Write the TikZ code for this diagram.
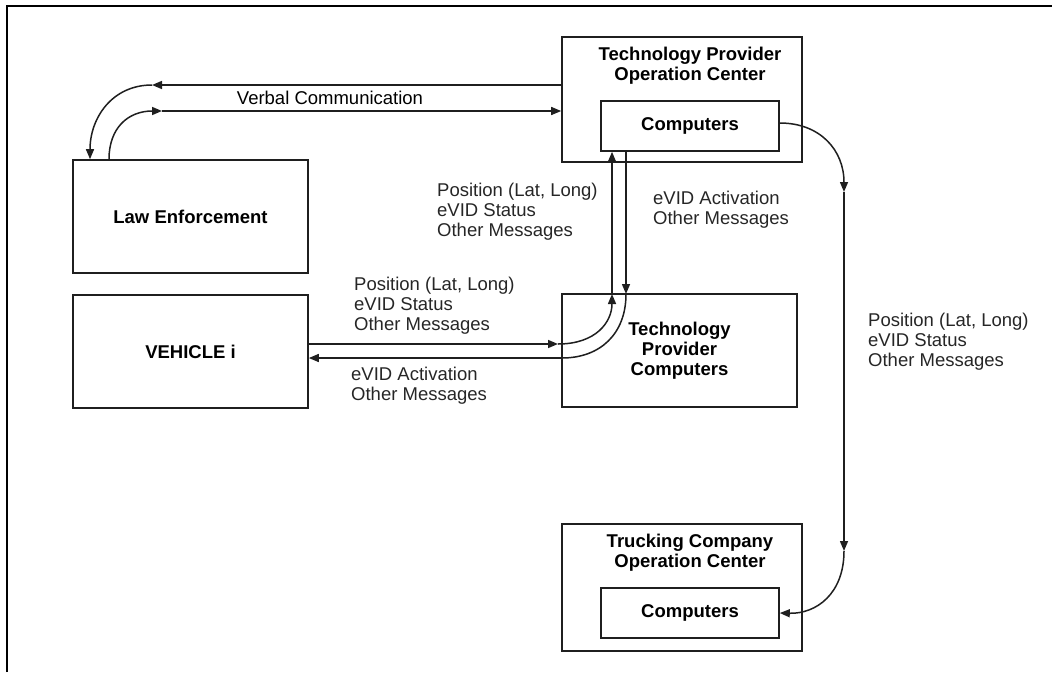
\documentclass[tikz,border=0pt]{standalone}
\usepackage{fontspec}
\setmainfont{Liberation Sans}
\usetikzlibrary{arrows.meta}
\begin{document}
\begin{tikzpicture}[x=1pt,y=-1pt,
  every node/.style={font=\fontsize{18.5}{20}\selectfont, inner sep=0pt},
  box/.style={draw=black!88, line width=1.6pt, rectangle, inner sep=0pt},
  ttl/.style={font=\fontsize{18.5}{20}\selectfont\bfseries, align=center},
  lbl/.style={align=left, anchor=west, text=black!85},
  arr/.style={draw=black!88, line width=1.5pt, -{Triangle[length=10pt,width=8pt]}},
  ln/.style={draw=black!88, line width=1.5pt}]
\useasboundingbox (0,0) rectangle (1052,672);

% outer frame (only the top and left edges fall inside the page)
\draw[line width=2.5pt] (7,672) -- (7,6) -- (1052,6);

% boxes
\node[box, minimum width=240pt, minimum height=125pt] (tpoc) at (682,99.5) {};
\node[ttl] (tpoct) at (690,66) {Technology Provider\\Operation Center};
\node[box, ttl, minimum width=178pt, minimum height=50pt] (tpcomp) at (690,126) {Computers};

\node[box, ttl, minimum width=235pt, minimum height=113pt] (law) at (190.5,216.5) {Law Enforcement};
\node[box, ttl, minimum width=235pt, minimum height=113pt] (veh) at (190.5,351.5) {VEHICLE i};
\node[box, ttl, minimum width=235pt, minimum height=113pt] (tpc) at (679.5,350.5) {Technology\\Provider\\Computers};

\node[box, minimum width=240pt, minimum height=127pt] (tcoc) at (682,587.5) {};
\node[ttl] (tcoct) at (690,553) {Trucking Company\\Operation Center};
\node[box, ttl, minimum width=178pt, minimum height=50pt] (tccomp) at (690,613) {Computers};

% junction points of the curved connectors
\coordinate (v1) at (152,85);
\coordinate (v2) at (162,111);
\coordinate (h1) at (558,344);
\coordinate (u1) at (612,294);
\coordinate (d1) at (626,294);
\coordinate (d2) at (562,358);
\coordinate (r1) at (844,192);
\coordinate (r2) at (844,551);

% verbal communication between law enforcement and the operation center
\draw[arr] (tpoc.west |- v1) -- (v1);
\draw[arr] (v1) .. controls (112,85) and (90,118) .. (law.north -| 90,0);
\draw[arr] (law.north -| 109,0) .. controls (109,128) and (128,111) .. (v2);
\draw[arr] (v2) -- (tpoc.west |- v2);
\node (verbal) at (330,98) {Verbal Communication};

% vehicle <-> technology provider computers <-> operation center computers
\draw[arr] (veh.east |- h1) -- (h1);
\draw[arr] (h1) .. controls (596,344) and (612,322) .. (u1);
\draw[arr] (u1) -- (tpcomp.south -| u1);
\draw[arr] (tpcomp.south -| d1) -- (d1);
\draw[ln] (d1) .. controls (626,334) and (600,358) .. (d2);
\draw[arr] (d2) -- (veh.east |- d2);

% operation center computers -> trucking company computers
\draw[arr] (tpcomp.east |- 0,123) .. controls (820,123) and (844,150) .. (r1);
\draw[arr] (r1) -- (r2);
\draw[arr] (r2) .. controls (844,594) and (816,614) .. (tccomp.east);

% message labels
\node[lbl] (m1) at (437,212) {Position (Lat, Long)\\eVID Status\\Other Messages};
\node[lbl] (m2) at (653,210) {eVID Activation\\Other Messages};
\node[lbl] (m3) at (354,306) {Position (Lat, Long)\\eVID Status\\Other Messages};
\node[lbl] (m4) at (351,386) {eVID Activation\\Other Messages};
\node[lbl] (m5) at (868,342) {Position (Lat, Long)\\eVID Status\\Other Messages};
\end{tikzpicture}
\end{document}
